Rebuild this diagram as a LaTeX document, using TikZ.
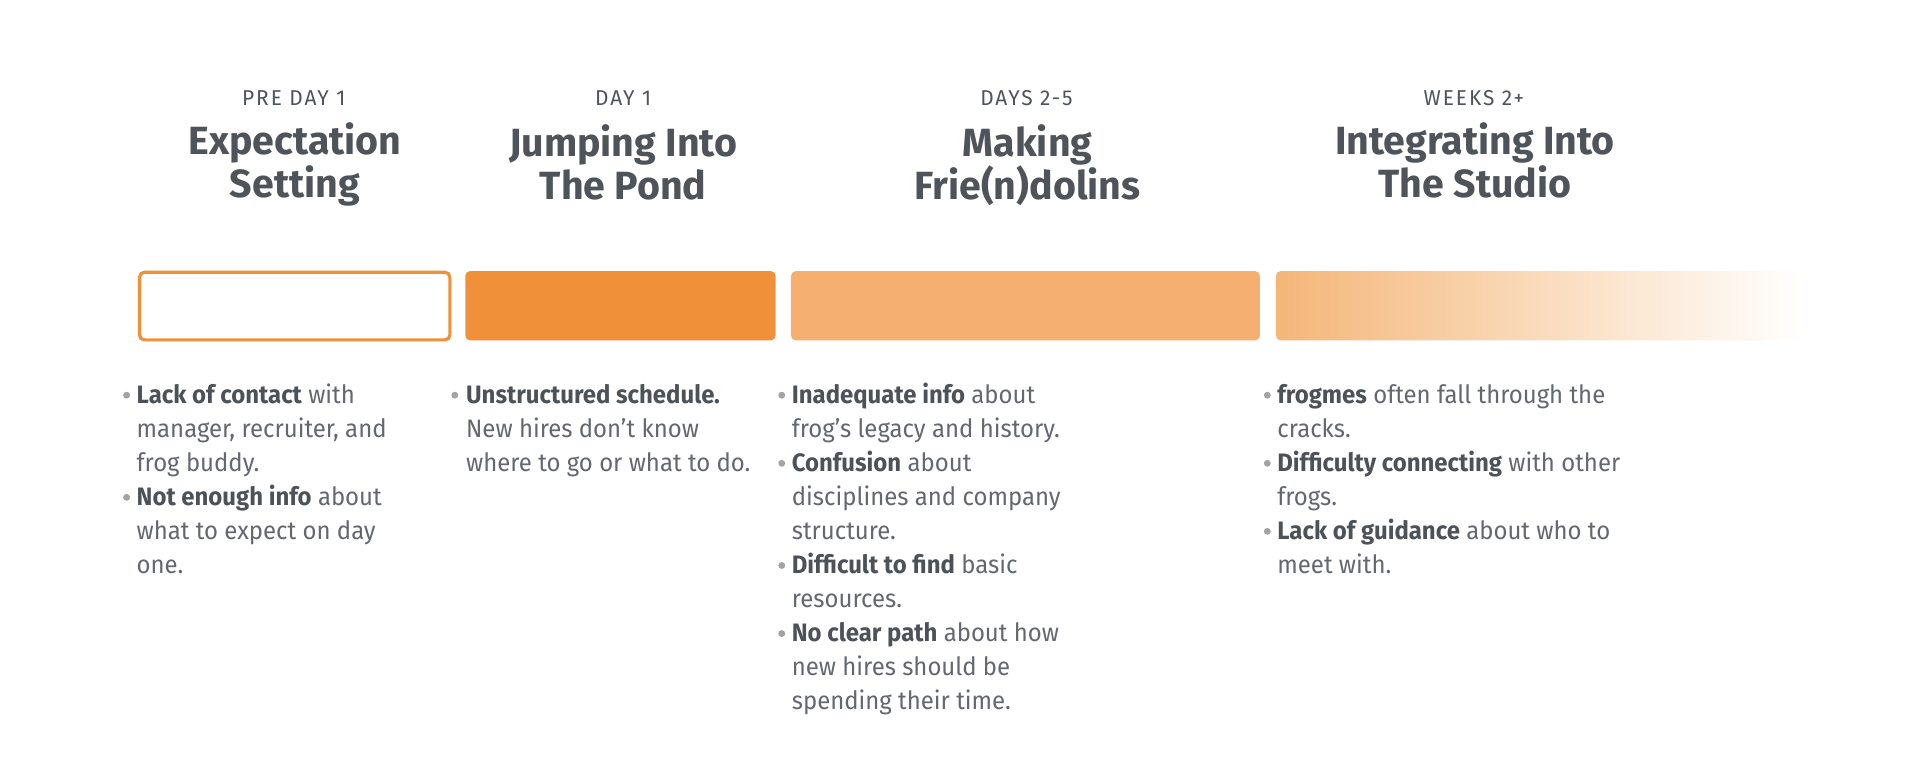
\documentclass[tikz,border=0pt]{standalone}
\usepackage{fontspec}
\setmainfont{Fira Sans}[FakeStretch=0.95]
\newfontfamily\stagefont{Fira Sans}[LetterSpace=9, FakeStretch=0.97]
\newfontfamily\titlefont{Fira Sans}[FakeStretch=1.0]
\definecolor{headc}{HTML}{4F545B}
\definecolor{bodyc}{HTML}{64686E}
\definecolor{boldc}{HTML}{4D5258}
\definecolor{dotc}{HTML}{A3A3A3}
\definecolor{orA}{HTML}{F0913A}
\definecolor{orB}{HTML}{F4AF71}
\definecolor{orC}{HTML}{F4B678}
\newcommand\bodyline[4]{\node[body] (#1) at (#2,{328+27.7*(#3)}) {#4};}
\newcommand\bdot[2]{\fill[dotc] (#1,{321.5+27.7*(#2)}) circle[radius=2.8pt];}
\newcommand\bb[1]{\textcolor{boldc}{\bfseries #1}}
\tikzset{
  stage/.style={anchor=base, inner sep=0pt, text=headc, font=\stagefont\fontsize{17.5}{19}\selectfont},
  title/.style={anchor=base, inner sep=0pt, text=headc, font=\titlefont\bfseries\fontsize{32}{35}\selectfont},
  body/.style={anchor=base west, inner sep=0pt, text=bodyc, font=\fontsize{20.5}{27.7}\selectfont},
  bar/.style={rounded corners=4pt}
}
\begin{document}
\begin{tikzpicture}[x=1pt,y=-1pt]
\useasboundingbox (0,0) rectangle (1562,635.4);
\fill[white] (0,0) rectangle (1562,635.4);
% stage labels
\node[stage] (s1) at (239,86) {PRE DAY 1};
\node[stage] (s2) at (507,86) {DAY 1};
\node[stage] (s3) at (835,86) {DAYS 2-5};
\node[stage] (s4) at (1199,86) {WEEKS 2+};
% titles
\node[title] (t1a) at (240,125.3) {Expectation};
\node[title] (t1b) at (240,160.3) {Setting};
\node[title] (t2a) at (507,127.5) {Jumping Into};
\node[title] (t2b) at (507,162.5) {The Pond};
\node[title] (t3a) at (836,127.5) {Making};
\node[title] (t3b) at (836,162.5) {Frie(n)dolins};
\node[title] (t4a) at (1200,125.3) {Integrating Into};
\node[title] (t4b) at (1200,160.3) {The Studio};
% bars
\draw[bar, orA, line width=2.6pt, fill=white] (113.5,221.5) rectangle (366,276.5);
\fill[bar, orA] (378.5,220.5) rectangle (631,277);
\fill[bar, orB] (643.5,220.5) rectangle (1025,277);
\shade[bar, left color=orC, right color=white] (1038,220.5) rectangle (1466,277);
% column 1
\bdot{103}{0}
\bodyline{c1a}{111}{0}{\bb{Lack of contact} with}
\bodyline{c1b}{111}{1}{manager, recruiter, and}
\bodyline{c1c}{111}{2}{frog buddy.}
\bdot{103}{3}
\bodyline{c1d}{111}{3}{\bb{Not enough info} about}
\bodyline{c1e}{111}{4}{what to expect on day}
\bodyline{c1f}{111}{5}{one.}
% column 2
\bdot{370}{0}
\bodyline{c2a}{379}{0}{\bb{Unstructured schedule.}}
\bodyline{c2b}{379}{1}{New hires don’t know}
\bodyline{c2c}{379}{2}{where to go or what to do.}
% column 3
\bdot{636}{0}
\bodyline{c3a}{644}{0}{\bb{Inadequate info} about}
\bodyline{c3b}{644}{1}{frog’s legacy and history.}
\bdot{636}{2}
\bodyline{c3c}{644}{2}{\bb{Confusion} about}
\bodyline{c3d}{644}{3}{disciplines and company}
\bodyline{c3e}{644}{4}{structure.}
\bdot{636}{5}
\bodyline{c3f}{644}{5}{\bb{Difficult to find} basic}
\bodyline{c3g}{644}{6}{resources.}
\bdot{636}{7}
\bodyline{c3h}{644}{7}{\bb{No clear path} about how}
\bodyline{c3i}{644}{8}{new hires should be}
\bodyline{c3j}{644}{9}{spending their time.}
% column 4
\bdot{1031}{0}
\bodyline{c4a}{1039}{0}{\bb{frogmes} often fall through the}
\bodyline{c4b}{1039}{1}{cracks.}
\bdot{1031}{2}
\bodyline{c4c}{1039}{2}{\bb{Difficulty connecting} with other}
\bodyline{c4d}{1039}{3}{frogs.}
\bdot{1031}{4}
\bodyline{c4e}{1039}{4}{\bb{Lack of guidance} about who to}
\bodyline{c4f}{1039}{5}{meet with.}
\end{tikzpicture}
\end{document}
